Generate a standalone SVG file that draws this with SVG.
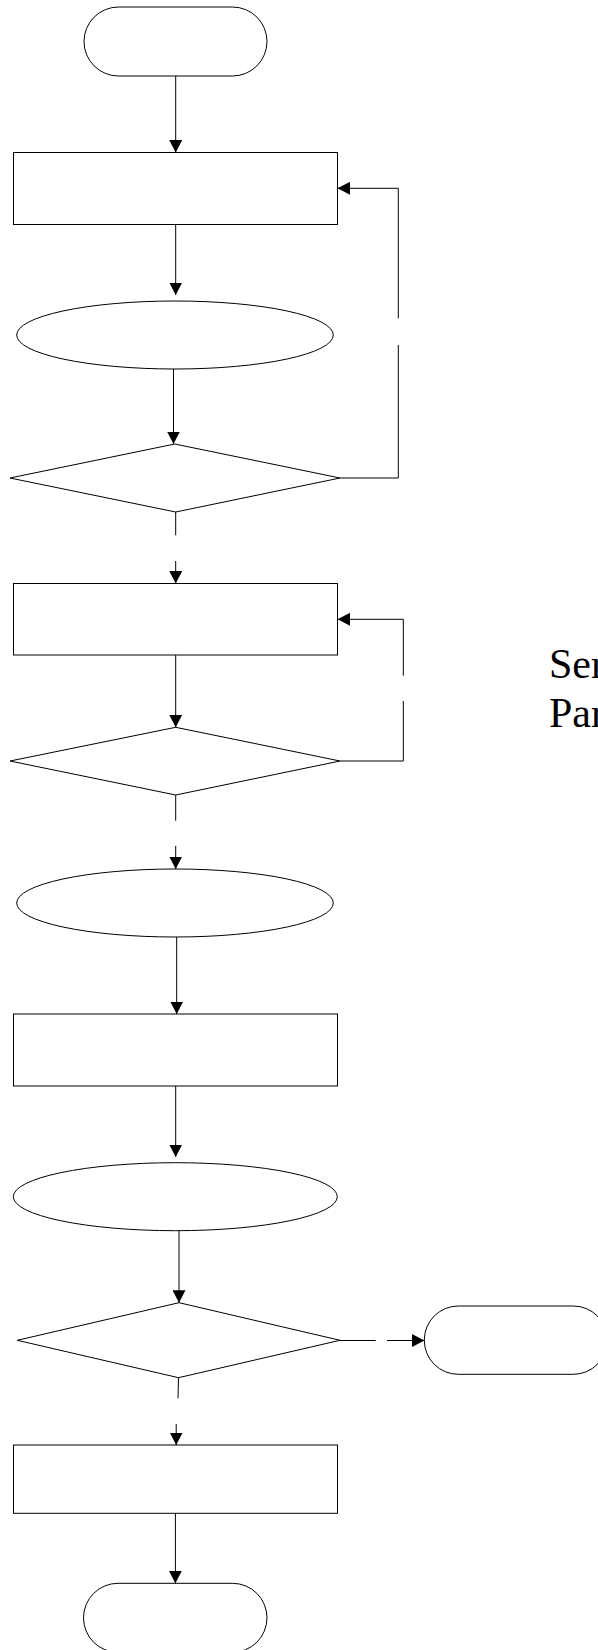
<svg xmlns="http://www.w3.org/2000/svg" width="598" height="1650" viewBox="0 0 598 1650">
<style>
.n{fill:#fff;stroke:#000;stroke-width:1}
.c{fill:none;stroke:#000;stroke-width:1}
.t{font-family:"Liberation Serif","Times New Roman",serif;font-size:42px;fill:#000}
</style>
<defs>
<marker id="ah" markerUnits="userSpaceOnUse" markerWidth="13" markerHeight="13" refX="12.5" refY="6.5" orient="auto">
<path d="M0,0 L12.5,6.5 L0,13 z" fill="#000"/>
</marker>
</defs>
<rect width="598" height="1650" fill="#fff"/>
<g id="start"><rect class="n" x="84" y="7" width="183" height="69" rx="34.5"/></g>
<g id="p1"><rect class="n" x="13.5" y="152.5" width="324" height="72"/></g>
<g id="e1"><ellipse class="n" cx="175" cy="335" rx="158.3" ry="34"/></g>
<g id="d1"><polygon class="n" points="10,478 174.7,444 340,478 175.7,512"/></g>
<g id="p2"><rect class="n" x="13.5" y="583.5" width="324" height="71.5"/></g>
<g id="d2"><polygon class="n" points="10,761 175.7,727.3 340,761 175.7,795"/></g>
<g id="e2"><ellipse class="n" cx="175" cy="903" rx="158.3" ry="34"/></g>
<g id="p3"><rect class="n" x="13.5" y="1014" width="324" height="72"/></g>
<g id="e3"><ellipse class="n" cx="175.3" cy="1196.7" rx="162" ry="34"/></g>
<g id="d3"><polygon class="n" points="17.3,1340.3 179,1302.7 340,1340.3 178.5,1377.7"/></g>
<g id="p4"><rect class="n" x="13.5" y="1445" width="324" height="68.3"/></g>
<g id="end"><rect class="n" x="83.5" y="1583.3" width="183.5" height="69" rx="34.5"/></g>
<g id="end2"><rect class="n" x="424.3" y="1306" width="183" height="68.3" rx="34"/></g>
<g id="label">
<text class="t" x="549" y="678.3">Ser</text>
<text class="t" x="549" y="726.7">Par</text>
</g>
<g id="connectors">
<path class="c" d="M175.7,76 V152.5" marker-end="url(#ah)"/>
<path class="c" d="M175.7,224.5 V295" marker-end="url(#ah)"/>
<path class="c" d="M173.5,369 V444" marker-end="url(#ah)"/>
<path class="c" d="M340,478 H398.3 V345"/>
<path class="c" d="M398.3,318.3 V188.3 H337.5" marker-end="url(#ah)"/>
<path class="c" d="M175.7,512 V535.3"/>
<path class="c" d="M175.7,561 V583.5" marker-end="url(#ah)"/>
<path class="c" d="M175.7,655 V727.3" marker-end="url(#ah)"/>
<path class="c" d="M340,761 H403.3 V701"/>
<path class="c" d="M403.3,675.7 V619.3 H337.5" marker-end="url(#ah)"/>
<path class="c" d="M175.7,795 V820.7"/>
<path class="c" d="M175.7,846 V869" marker-end="url(#ah)"/>
<path class="c" d="M176.7,937 V1014" marker-end="url(#ah)"/>
<path class="c" d="M175.7,1086 V1157" marker-end="url(#ah)"/>
<path class="c" d="M179,1230.7 V1302.7" marker-end="url(#ah)"/>
<path class="c" d="M340,1340.5 H375.7"/>
<path class="c" d="M387,1340.5 H424.3" marker-end="url(#ah)"/>
<path class="c" d="M178.5,1377.7 L178,1398.3"/>
<path class="c" d="M176.2,1424 V1445" marker-end="url(#ah)"/>
<path class="c" d="M175.4,1513.3 V1583.3" marker-end="url(#ah)"/>
</g>
</svg>
